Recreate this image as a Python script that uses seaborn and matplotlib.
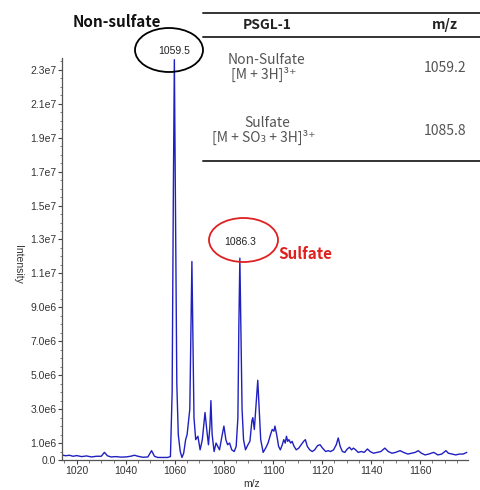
import matplotlib
matplotlib.use("Agg")
import matplotlib.pyplot as plt
from matplotlib.patches import Ellipse
from matplotlib.lines import Line2D
from matplotlib.ticker import MultipleLocator, FixedLocator
import seaborn as sns
import pandas as pd

# ---- data ----
mz = [1014.0, 1015.5, 1017.0, 1018.5, 1020.0, 1022.0, 1024.0, 1026.0, 1028.0, 1030.0,
      1031.3, 1032.5, 1034.0, 1036.0, 1038.0, 1040.0, 1042.0, 1043.5, 1045.0, 1047.0,
      1049.0, 1050.5, 1051.7, 1053.0, 1055.0, 1057.0, 1058.2, 1058.9, 1059.4, 1059.8,
      1060.2, 1060.8, 1061.4, 1062.2, 1062.9, 1063.6, 1064.4, 1065.0, 1065.6, 1066.1,
      1066.6, 1066.95, 1067.3, 1067.8, 1068.5, 1069.4, 1070.3, 1071.2, 1072.3, 1073.0,
      1073.7, 1074.3, 1074.7, 1075.2, 1076.0, 1076.8, 1077.5, 1078.2, 1079.2, 1080.0,
      1080.8, 1081.5, 1082.3, 1083.2, 1084.2, 1085.0, 1085.7, 1086.1, 1086.5, 1086.9,
      1087.4, 1088.0, 1088.8, 1089.8, 1090.6, 1091.4, 1091.8, 1092.4, 1093.2, 1093.8,
      1094.4, 1095.0, 1096.0, 1097.0, 1098.0, 1099.0, 1099.7, 1100.4, 1100.8, 1101.5,
      1102.3, 1103.0, 1103.8, 1104.4, 1105.0, 1105.5, 1106.0, 1106.5, 1107.2, 1107.8,
      1108.6, 1109.5, 1110.5, 1111.5, 1112.5, 1113.2, 1114.0, 1115.0, 1116.0, 1117.0,
      1118.2, 1119.2, 1120.2, 1121.5, 1122.5, 1123.5, 1124.7, 1125.8, 1126.6, 1127.4,
      1128.3, 1129.3, 1130.3, 1131.2, 1132.0, 1132.8, 1133.7, 1134.7, 1136.0, 1137.2,
      1138.5, 1139.6, 1141.0, 1142.5, 1144.0, 1145.6, 1147.0, 1148.5, 1150.0, 1151.8,
      1153.2, 1155.0, 1156.5, 1158.0, 1159.2, 1160.5, 1162.0, 1163.5, 1165.5, 1167.2,
      1168.8, 1170.5, 1171.5, 1173.0, 1174.5, 1176.0, 1177.5, 1179.0]
intensity = [0.30e6, 0.25e6, 0.28e6, 0.22e6, 0.26e6, 0.20e6, 0.24e6, 0.18e6, 0.22e6, 0.22e6,
             0.45e6, 0.25e6, 0.18e6, 0.20e6, 0.17e6, 0.18e6, 0.22e6, 0.28e6, 0.22e6, 0.16e6,
             0.18e6, 0.55e6, 0.22e6, 0.15e6, 0.15e6, 0.15e6, 0.20e6, 4.0e6, 16.0e6, 23.6e6,
             16.0e6, 4.5e6, 1.5e6, 0.5e6, 0.15e6, 0.4e6, 1.2e6, 1.5e6, 2.3e6, 3.0e6,
             8.0e6, 11.7e6, 8.0e6, 2.5e6, 1.2e6, 1.4e6, 0.6e6, 1.2e6, 2.8e6, 1.8e6,
             0.9e6, 2.0e6, 3.5e6, 1.5e6, 0.5e6, 1.0e6, 0.8e6, 0.6e6, 1.4e6, 2.0e6,
             1.2e6, 0.9e6, 1.0e6, 0.6e6, 0.5e6, 0.8e6, 2.5e6, 8.0e6, 11.9e6, 8.0e6,
             3.0e6, 1.2e6, 0.6e6, 0.9e6, 1.1e6, 2.3e6, 2.5e6, 1.8e6, 3.5e6, 4.7e6,
             3.0e6, 1.2e6, 0.45e6, 0.7e6, 1.0e6, 1.5e6, 1.8e6, 1.7e6, 2.0e6, 1.5e6,
             0.8e6, 0.6e6, 0.9e6, 1.2e6, 1.0e6, 1.4e6, 1.1e6, 1.2e6, 1.0e6, 1.1e6,
             0.8e6, 0.6e6, 0.7e6, 0.9e6, 1.1e6, 1.2e6, 0.8e6, 0.6e6, 0.5e6, 0.6e6,
             0.85e6, 0.9e6, 0.7e6, 0.5e6, 0.55e6, 0.5e6, 0.6e6, 0.9e6, 1.3e6, 0.8e6,
             0.5e6, 0.45e6, 0.65e6, 0.75e6, 0.6e6, 0.7e6, 0.6e6, 0.45e6, 0.5e6, 0.45e6,
             0.65e6, 0.5e6, 0.4e6, 0.45e6, 0.5e6, 0.7e6, 0.5e6, 0.4e6, 0.45e6, 0.55e6,
             0.45e6, 0.35e6, 0.4e6, 0.45e6, 0.55e6, 0.4e6, 0.3e6, 0.35e6, 0.45e6, 0.3e6,
             0.35e6, 0.55e6, 0.4e6, 0.35e6, 0.3e6, 0.35e6, 0.35e6, 0.45e6]

y_ticks = [0.0, 1.0e6, 3.0e6, 5.0e6, 7.0e6, 9.0e6, 1.1e7, 1.3e7, 1.5e7, 1.7e7, 1.9e7, 2.1e7, 2.3e7]
y_tick_labels = ["0.0", "1.0e6", "3.0e6", "5.0e6", "7.0e6", "9.0e6", "1.1e7", "1.3e7",
                 "1.5e7", "1.7e7", "1.9e7", "2.1e7", "2.3e7"]
x_ticks = [1020, 1040, 1060, 1080, 1100, 1120, 1140, 1160]

peak_labels = ["1059.5", "1086.3"]
table_header = ["PSGL-1", "m/z"]
table_names = ["Non-Sulfate", "Sulfate"]
table_ions = ["[M + 3H]³⁺", "[M + SO₃ + 3H]³⁺"]
table_mz = ["1059.2", "1085.8"]

# ---- figure ----
sns.set_style("ticks")
plt.rcParams["font.family"] = ["Liberation Sans", "DejaVu Sans"]

W, H = 481, 490
fig = plt.figure(figsize=(W / 100, H / 100), dpi=100)
ax = fig.add_axes([62 / W, (H - 460) / H, (468 - 62) / W, (460 - 58) / H])

df = pd.DataFrame({"mz": mz, "intensity": intensity})
sns.lineplot(data=df, x="mz", y="intensity", ax=ax, color="#2020c0", lw=1.0,
             sort=False, estimator=None)

ax.set_xlim(1014, 1179.5)
ax.set_ylim(0, 2.37e7)
ax.yaxis.set_major_locator(FixedLocator(y_ticks))
ax.set_yticklabels(y_tick_labels)
ax.yaxis.set_minor_locator(MultipleLocator(5e5))
ax.xaxis.set_major_locator(FixedLocator(x_ticks))
ax.xaxis.set_minor_locator(MultipleLocator(5))
ax.tick_params(axis="both", which="major", labelsize=7.5, length=3, width=0.8,
               colors="#444444", labelcolor="#333333", pad=1)
ax.tick_params(axis="both", which="minor", length=1.8, width=0.6, color="#666666")
for s in ["top", "right"]:
    ax.spines[s].set_visible(False)
for s in ["left", "bottom"]:
    ax.spines[s].set_color("#555555")
    ax.spines[s].set_linewidth(0.9)
ax.set_xlabel("")
ax.set_ylabel("")

def fx(px):
    return px / W

def fy(py):
    return 1 - py / H

# axis titles
fig.text(fx(18), fy(264), "Intensity", rotation=270, ha="center", va="center",
         fontsize=7.5, color="#333333")
fig.text(fx(252), fy(484), "m/z", ha="center", va="center", fontsize=7.5, color="#333333")

# peak annotations
fig.add_artist(Ellipse((fx(169), fy(50)), 68 / W, 44 / H, transform=fig.transFigure,
                       fill=False, ec="black", lw=1.3))
fig.text(fx(174), fy(51), peak_labels[0], ha="center", va="center", fontsize=7.5, color="#222222")
fig.add_artist(Ellipse((fx(243.5), fy(240)), 69 / W, 44 / H, transform=fig.transFigure,
                       fill=False, ec="#e02020", lw=1.3))
fig.text(fx(240), fy(242), peak_labels[1], ha="center", va="center", fontsize=7.5, color="#222222")

cjk = ["Noto Sans CJK JP", "DejaVu Sans"]
fig.text(fx(117), fy(22), "Non-sulfate", ha="center", va="center", fontsize=11,
         fontweight="bold", family=cjk, color="#111111")
fig.text(fx(305), fy(254), "Sulfate", ha="center", va="center", fontsize=11,
         fontweight="bold", family=cjk, color="#e0201c")

# table
for yy in (13, 37, 161):
    fig.add_artist(Line2D([fx(203), fx(481)], [fy(yy), fy(yy)], transform=fig.transFigure,
                          color="#333333", lw=1.4))
tfam = ["Noto Sans CJK JP", "DejaVu Sans"]
fig.text(fx(267), fy(25), table_header[0], ha="center", va="center", fontsize=10,
         fontweight="bold", family=tfam, color="#222222")
fig.text(fx(445), fy(25), table_header[1], ha="center", va="center", fontsize=10,
         fontweight="bold", family=tfam, color="#222222")
row_y = [(60, 74, 68), (123, 137, 131)]
for i in range(2):
    y1, y2, ym = row_y[i]
    fig.text(fx(267), fy(y1), table_names[i], ha="center", va="center", fontsize=10,
             family=tfam, color="#555555")
    fig.text(fx(264), fy(y2), table_ions[i], ha="center", va="center", fontsize=10,
             family=tfam, color="#555555")
    fig.text(fx(445), fy(ym), table_mz[i], ha="center", va="center", fontsize=10,
             family=tfam, color="#555555")

fig.savefig("out.png", dpi=100)
